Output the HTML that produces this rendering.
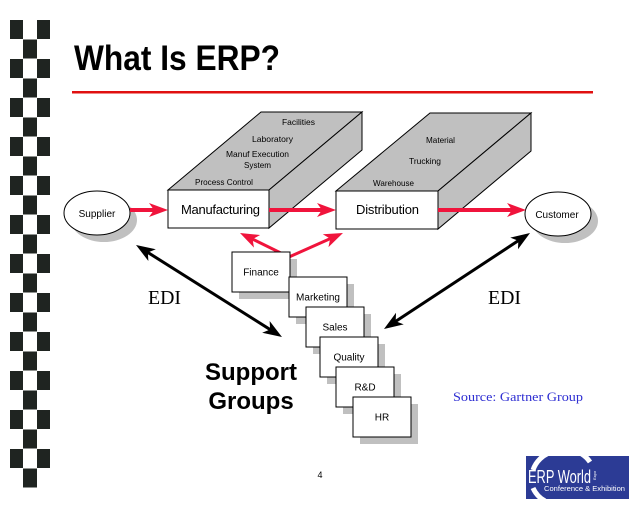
<!DOCTYPE html>
<html>
<head>
<meta charset="utf-8">
<style>
html,body{margin:0;padding:0;background:#fff;}
svg{display:block;}
.sans{font-family:"Liberation Sans",sans-serif;}
.serif{font-family:"Liberation Serif",serif;}
</style>
</head>
<body>
<svg width="640" height="512" viewBox="0 0 640 512" xmlns="http://www.w3.org/2000/svg" class="sans">
<defs>
  <marker id="rh" markerUnits="userSpaceOnUse" markerWidth="30" markerHeight="30" viewBox="-15 -15 30 30" refX="0" refY="0" orient="auto-start-reverse">
    <path d="M6,0 L-13,-7 L-8,0 L-13,7 Z" fill="#f0143c"/>
  </marker>
  <marker id="bh" markerUnits="userSpaceOnUse" markerWidth="30" markerHeight="30" viewBox="-15 -15 30 30" refX="0" refY="0" orient="auto-start-reverse">
    <path d="M6,0 L-13,-7 L-8,0 L-13,7 Z" fill="#000"/>
  </marker>
  <clipPath id="logoclip"><rect x="526" y="456" width="103" height="43"/></clipPath>
</defs>
<rect width="640" height="512" fill="#fff"/>

<!-- checkerboard -->
<g fill="#1f2421">
  <rect x="10" y="20" width="13" height="19"/><rect x="37" y="20" width="13" height="19"/>
  <rect x="23" y="39.5" width="14" height="19"/>
  <rect x="10" y="59" width="13" height="19"/><rect x="37" y="59" width="13" height="19"/>
  <rect x="23" y="78.5" width="14" height="19"/>
  <rect x="10" y="98" width="13" height="19"/><rect x="37" y="98" width="13" height="19"/>
  <rect x="23" y="117.5" width="14" height="19"/>
  <rect x="10" y="137" width="13" height="19"/><rect x="37" y="137" width="13" height="19"/>
  <rect x="23" y="156.5" width="14" height="19"/>
  <rect x="10" y="176" width="13" height="19"/><rect x="37" y="176" width="13" height="19"/>
  <rect x="23" y="195.5" width="14" height="19"/>
  <rect x="10" y="215" width="13" height="19"/><rect x="37" y="215" width="13" height="19"/>
  <rect x="23" y="234.5" width="14" height="19"/>
  <rect x="10" y="254" width="13" height="19"/><rect x="37" y="254" width="13" height="19"/>
  <rect x="23" y="273.5" width="14" height="19"/>
  <rect x="10" y="293" width="13" height="19"/><rect x="37" y="293" width="13" height="19"/>
  <rect x="23" y="312.5" width="14" height="19"/>
  <rect x="10" y="332" width="13" height="19"/><rect x="37" y="332" width="13" height="19"/>
  <rect x="23" y="351.5" width="14" height="19"/>
  <rect x="10" y="371" width="13" height="19"/><rect x="37" y="371" width="13" height="19"/>
  <rect x="23" y="390.5" width="14" height="19"/>
  <rect x="10" y="410" width="13" height="19"/><rect x="37" y="410" width="13" height="19"/>
  <rect x="23" y="429.5" width="14" height="19"/>
  <rect x="10" y="449" width="13" height="19"/><rect x="37" y="449" width="13" height="19"/>
  <rect x="23" y="468.5" width="14" height="19"/>
</g>

<!-- title -->
<text x="74" y="70" font-size="35" font-weight="bold" fill="#000" textLength="206" lengthAdjust="spacingAndGlyphs">What Is ERP?</text>
<rect x="72" y="91" width="521" height="2.5" fill="#e01010"/>

<!-- Manufacturing 3D box -->
<polygon points="168,190 269,190 362,112 261,112" fill="#c0c0c0" stroke="#000" stroke-width="1"/>
<polygon points="269,190 362,112 362,150 269,228" fill="#c0c0c0" stroke="#000" stroke-width="1"/>
<rect x="168" y="190" width="101" height="38" fill="#fff" stroke="#000" stroke-width="1"/>
<g font-size="8.5" fill="#000">
  <text x="282" y="125" textLength="33" lengthAdjust="spacingAndGlyphs">Facilities</text>
  <text x="252" y="142" textLength="41" lengthAdjust="spacingAndGlyphs">Laboratory</text>
  <text x="226" y="157" textLength="63" lengthAdjust="spacingAndGlyphs">Manuf Execution</text>
  <text x="244" y="168" textLength="27" lengthAdjust="spacingAndGlyphs">System</text>
  <text x="195" y="185" textLength="58" lengthAdjust="spacingAndGlyphs">Process Control</text>
</g>
<text x="181" y="214" font-size="13" textLength="79" lengthAdjust="spacing">Manufacturing</text>

<!-- Distribution 3D box -->
<polygon points="336,191 438,191 531,113 430,113" fill="#c0c0c0" stroke="#000" stroke-width="1"/>
<polygon points="438,191 531,113 531,151 438,229" fill="#c0c0c0" stroke="#000" stroke-width="1"/>
<rect x="336" y="191" width="102" height="38" fill="#fff" stroke="#000" stroke-width="1"/>
<g font-size="8.5" fill="#000">
  <text x="426" y="143" textLength="29" lengthAdjust="spacingAndGlyphs">Material</text>
  <text x="409" y="164" textLength="32" lengthAdjust="spacingAndGlyphs">Trucking</text>
  <text x="373" y="186" textLength="41" lengthAdjust="spacingAndGlyphs">Warehouse</text>
</g>
<text x="356" y="214" font-size="13" textLength="63" lengthAdjust="spacing">Distribution</text>

<!-- Supplier / Customer -->
<ellipse cx="104" cy="220" rx="33" ry="22" fill="#c0c0c0"/>
<ellipse cx="97" cy="213" rx="33" ry="22" fill="#fff" stroke="#000" stroke-width="1"/>
<text x="97" y="217" font-size="10" text-anchor="middle">Supplier</text>
<ellipse cx="565" cy="221" rx="33" ry="22" fill="#c0c0c0"/>
<ellipse cx="558" cy="214" rx="33" ry="22" fill="#fff" stroke="#000" stroke-width="1"/>
<text x="557" y="218" font-size="10" text-anchor="middle">Customer</text>

<!-- red arrows -->
<g stroke="#f0143c" stroke-width="4" fill="none">
  <line x1="130" y1="210" x2="162" y2="210" marker-end="url(#rh)"/>
  <line x1="269" y1="210" x2="330" y2="210" marker-end="url(#rh)"/>
  <line x1="438" y1="210" x2="520" y2="210" marker-end="url(#rh)"/>
</g>
<g stroke="#f0143c" stroke-width="3" fill="none">
  <line x1="289" y1="257" x2="245.4" y2="235.6" marker-end="url(#rh)"/>
  <line x1="289" y1="257" x2="337.5" y2="235.4" marker-end="url(#rh)"/>
</g>

<!-- support group boxes -->
<g font-size="10" text-anchor="middle">
  <rect x="239" y="259" width="58" height="40" fill="#c0c0c0"/>
  <rect x="232" y="252" width="58" height="40" fill="#fff" stroke="#000" stroke-width="1"/>
  <text x="261" y="275.5">Finance</text>

  <rect x="296" y="284" width="58" height="40" fill="#c0c0c0"/>
  <rect x="289" y="277" width="58" height="40" fill="#fff" stroke="#000" stroke-width="1"/>
  <text x="318" y="300.5">Marketing</text>

  <rect x="313" y="314" width="58" height="40" fill="#c0c0c0"/>
  <rect x="306" y="307" width="58" height="40" fill="#fff" stroke="#000" stroke-width="1"/>
  <text x="335" y="330.5">Sales</text>

  <rect x="327" y="344" width="58" height="40" fill="#c0c0c0"/>
  <rect x="320" y="337" width="58" height="40" fill="#fff" stroke="#000" stroke-width="1"/>
  <text x="349" y="360.5">Quality</text>

  <rect x="343" y="374" width="58" height="40" fill="#c0c0c0"/>
  <rect x="336" y="367" width="58" height="40" fill="#fff" stroke="#000" stroke-width="1"/>
  <text x="365" y="390.5">R&amp;D</text>

  <rect x="360" y="404" width="58" height="40" fill="#c0c0c0"/>
  <rect x="353" y="397" width="58" height="40" fill="#fff" stroke="#000" stroke-width="1"/>
  <text x="382" y="420.5">HR</text>
</g>

<!-- black EDI arrows -->
<g stroke="#000" stroke-width="3" fill="none">
  <line x1="141.1" y1="248.2" x2="276.9" y2="333.8" marker-start="url(#bh)" marker-end="url(#bh)"/>
  <line x1="389" y1="325.7" x2="525" y2="236.3" marker-start="url(#bh)" marker-end="url(#bh)"/>
</g>

<text class="serif" x="148" y="304" font-size="20" textLength="33" lengthAdjust="spacingAndGlyphs">EDI</text>
<text class="serif" x="488" y="304" font-size="20" textLength="33" lengthAdjust="spacingAndGlyphs">EDI</text>

<text x="251" y="380" font-size="24" font-weight="bold" text-anchor="middle">Support</text>
<text x="251" y="409" font-size="24" font-weight="bold" text-anchor="middle">Groups</text>

<text class="serif" x="453" y="401" font-size="13" fill="#2e2ed2" textLength="130" lengthAdjust="spacingAndGlyphs">Source: Gartner Group</text>

<text x="320" y="478" font-size="9" text-anchor="middle">4</text>

<!-- logo -->
<rect x="526" y="456" width="103" height="43" fill="#2c3b95"/>
<g clip-path="url(#logoclip)" fill="none" stroke="#fff" stroke-width="5">
  <path d="M533,470 A28,28 0 0 1 552,452"/>
  <path d="M580,453 A28,28 0 0 1 590,462"/>
  <path d="M533,488 A28,28 0 0 0 545,501"/>
</g>
<text x="528" y="483" font-size="18" fill="#fff" textLength="63" lengthAdjust="spacingAndGlyphs">ERP World</text>
<text x="544" y="491" font-size="7" fill="#fff" textLength="81" lengthAdjust="spacingAndGlyphs">Conference &amp; Exhibition</text>
<text x="596" y="480" font-size="4" fill="#fff" transform="rotate(-90 596 480)">Expo</text>
</svg>
</body>
</html>
